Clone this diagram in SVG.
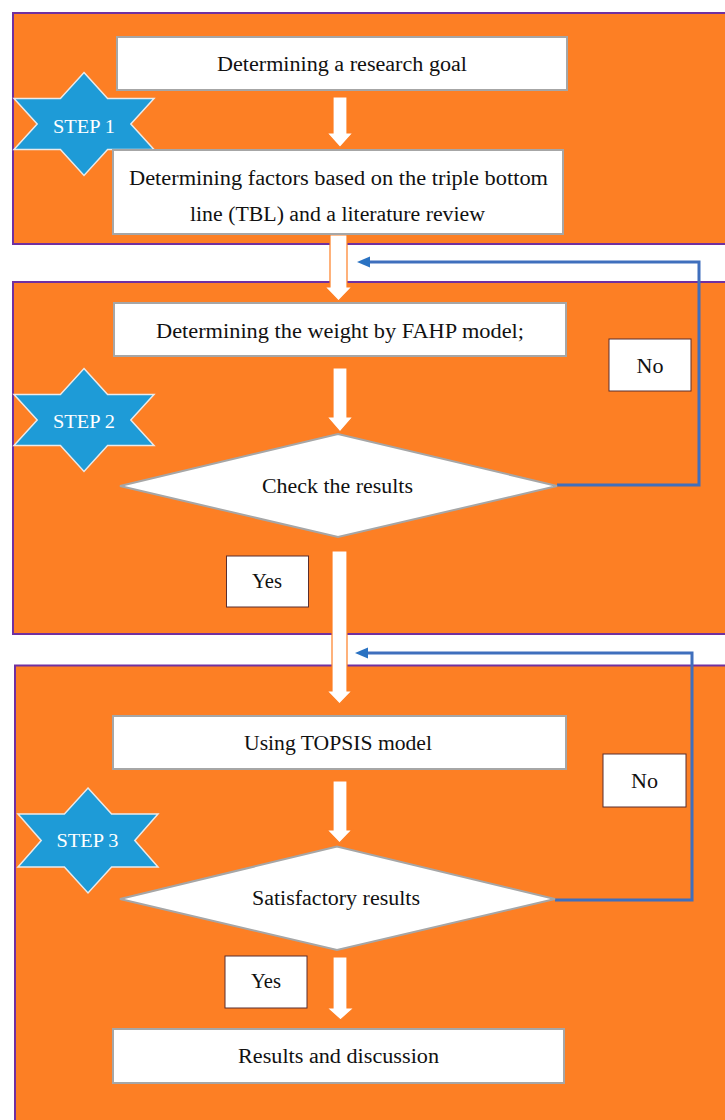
<svg xmlns="http://www.w3.org/2000/svg" width="725" height="1120" viewBox="0 0 725 1120">
<defs>
<style>
.panel{fill:#fd7f24;stroke:#7030a0;stroke-width:2}
.box{fill:#ffffff;stroke:#a6a6a6;stroke-width:2}
.lbl{fill:#ffffff;stroke:#5a2e2e;stroke-width:1}
.arrow{fill:#ffffff;stroke:#fd7f24;stroke-width:1.2}
.star{fill:#1e9bd7;stroke:#eaeaea;stroke-width:1.5}
.fb{fill:none;stroke:#3f6fbd;stroke-width:3}
.fbh{fill:#2a72c2}
text{font-family:"Liberation Serif","DejaVu Serif",serif;font-size:20px;fill:#111111;text-anchor:middle}
.st{font-size:18px;fill:#ffffff}
</style>
</defs>
<rect width="725" height="1120" fill="#ffffff"/>
<g id="panels">
<rect id="panel1" class="panel" x="13" y="13" width="730" height="231"/>
<rect id="panel2" class="panel" x="13" y="282" width="730" height="352"/>
<rect id="panel3" class="panel" x="15" y="665.5" width="730" height="470"/>
</g>
<g id="connectors">
<path class="arrow" d="M333,97 H347 V133 H353 L340,147.5 L327,133 H333 Z"/>
<path class="arrow" d="M330,235 H347 V287 H352 L338.5,301 L325,287 H330 Z"/>
<path class="arrow" d="M333,368 H347 V417 H353 L340,432 L327,417 H333 Z"/>
<path class="arrow" d="M332,551 H347 V691 H352 L339.5,704 L327,691 H332 Z"/>
<path class="arrow" d="M333,781 H347 V830 H352 L339.5,843 L327,830 H333 Z"/>
<path class="arrow" d="M333,957 H347 V1008 H354 L340.5,1020 L327,1008 H333 Z"/>
<polyline class="fb" points="557,485 699,485 699,262 369,262"/>
<polygon class="fbh" points="357,262 370,256.5 370,267.5"/>
<polyline class="fb" points="555,900 692,900 692,653 367,653"/>
<polygon class="fbh" points="355,653 368,647.5 368,658.5"/>
</g>
<g id="step1">
<polygon class="star" points="84,72.5 107.6,98.5 154,98.5 130.8,124 154,149.5 107.6,149.5 84,175.5 60.4,149.5 14,149.5 37.2,124 14,98.5 60.4,98.5"/>
<text class="st" x="84" y="133" textLength="62" lengthAdjust="spacingAndGlyphs">STEP 1</text>
</g>
<g id="step2">
<polygon class="star" points="84,368.5 107.6,394.5 154,394.5 130.8,420 154,445.5 107.6,445.5 84,471.5 60.4,445.5 14,445.5 37.2,420 14,394.5 60.4,394.5"/>
<text class="st" x="84" y="428" textLength="62" lengthAdjust="spacingAndGlyphs">STEP 2</text>
</g>
<g id="step3">
<polygon class="star" points="88,788 111.6,814 158,814 134.8,840.5 158,867 111.6,867 88,893 64.4,867 18,867 41.2,840.5 18,814 64.4,814"/>
<text class="st" x="87.5" y="847" textLength="62" lengthAdjust="spacingAndGlyphs">STEP 3</text>
</g>
<g id="goal">
<rect class="box" x="117" y="37" width="450" height="53"/>
<text x="342" y="71" textLength="250" lengthAdjust="spacingAndGlyphs">Determining a research goal</text>
</g>
<g id="factors">
<rect class="box" x="113" y="150" width="450" height="84"/>
<text x="338.5" y="185" textLength="419" lengthAdjust="spacingAndGlyphs">Determining factors based on the triple bottom</text>
<text x="337.5" y="221" textLength="295" lengthAdjust="spacingAndGlyphs">line (TBL) and a literature review</text>
</g>
<g id="fahp">
<rect class="box" x="114" y="303" width="452" height="53"/>
<text x="340" y="338" textLength="368" lengthAdjust="spacingAndGlyphs">Determining the weight by FAHP model;</text>
</g>
<g id="check">
<polygon class="box" points="120,486 338,434 557,486 338,537"/>
<text x="337.5" y="493" textLength="151" lengthAdjust="spacingAndGlyphs">Check the results</text>
</g>
<g id="no1">
<rect class="lbl" x="609" y="339" width="82" height="52"/>
<text x="650" y="372.5" textLength="27" lengthAdjust="spacingAndGlyphs">No</text>
</g>
<g id="yes1">
<rect class="lbl" x="226.5" y="556" width="82" height="51"/>
<text x="267" y="588" textLength="30" lengthAdjust="spacingAndGlyphs">Yes</text>
</g>
<g id="topsis">
<rect class="box" x="113" y="716" width="453" height="53"/>
<text x="338" y="750" textLength="188" lengthAdjust="spacingAndGlyphs">Using TOPSIS model</text>
</g>
<g id="satisfactory">
<polygon class="box" points="120,899 337,846.5 555,899 337,950"/>
<text x="336" y="905" textLength="168" lengthAdjust="spacingAndGlyphs">Satisfactory results</text>
</g>
<g id="no2">
<rect class="lbl" x="603" y="754" width="83" height="53"/>
<text x="644.5" y="788" textLength="27" lengthAdjust="spacingAndGlyphs">No</text>
</g>
<g id="yes2">
<rect class="lbl" x="225" y="956" width="82" height="52"/>
<text x="266" y="988" textLength="30" lengthAdjust="spacingAndGlyphs">Yes</text>
</g>
<g id="results">
<rect class="box" x="113" y="1029" width="451" height="54"/>
<text x="338.5" y="1063" textLength="201" lengthAdjust="spacingAndGlyphs">Results and discussion</text>
</g>
</svg>
